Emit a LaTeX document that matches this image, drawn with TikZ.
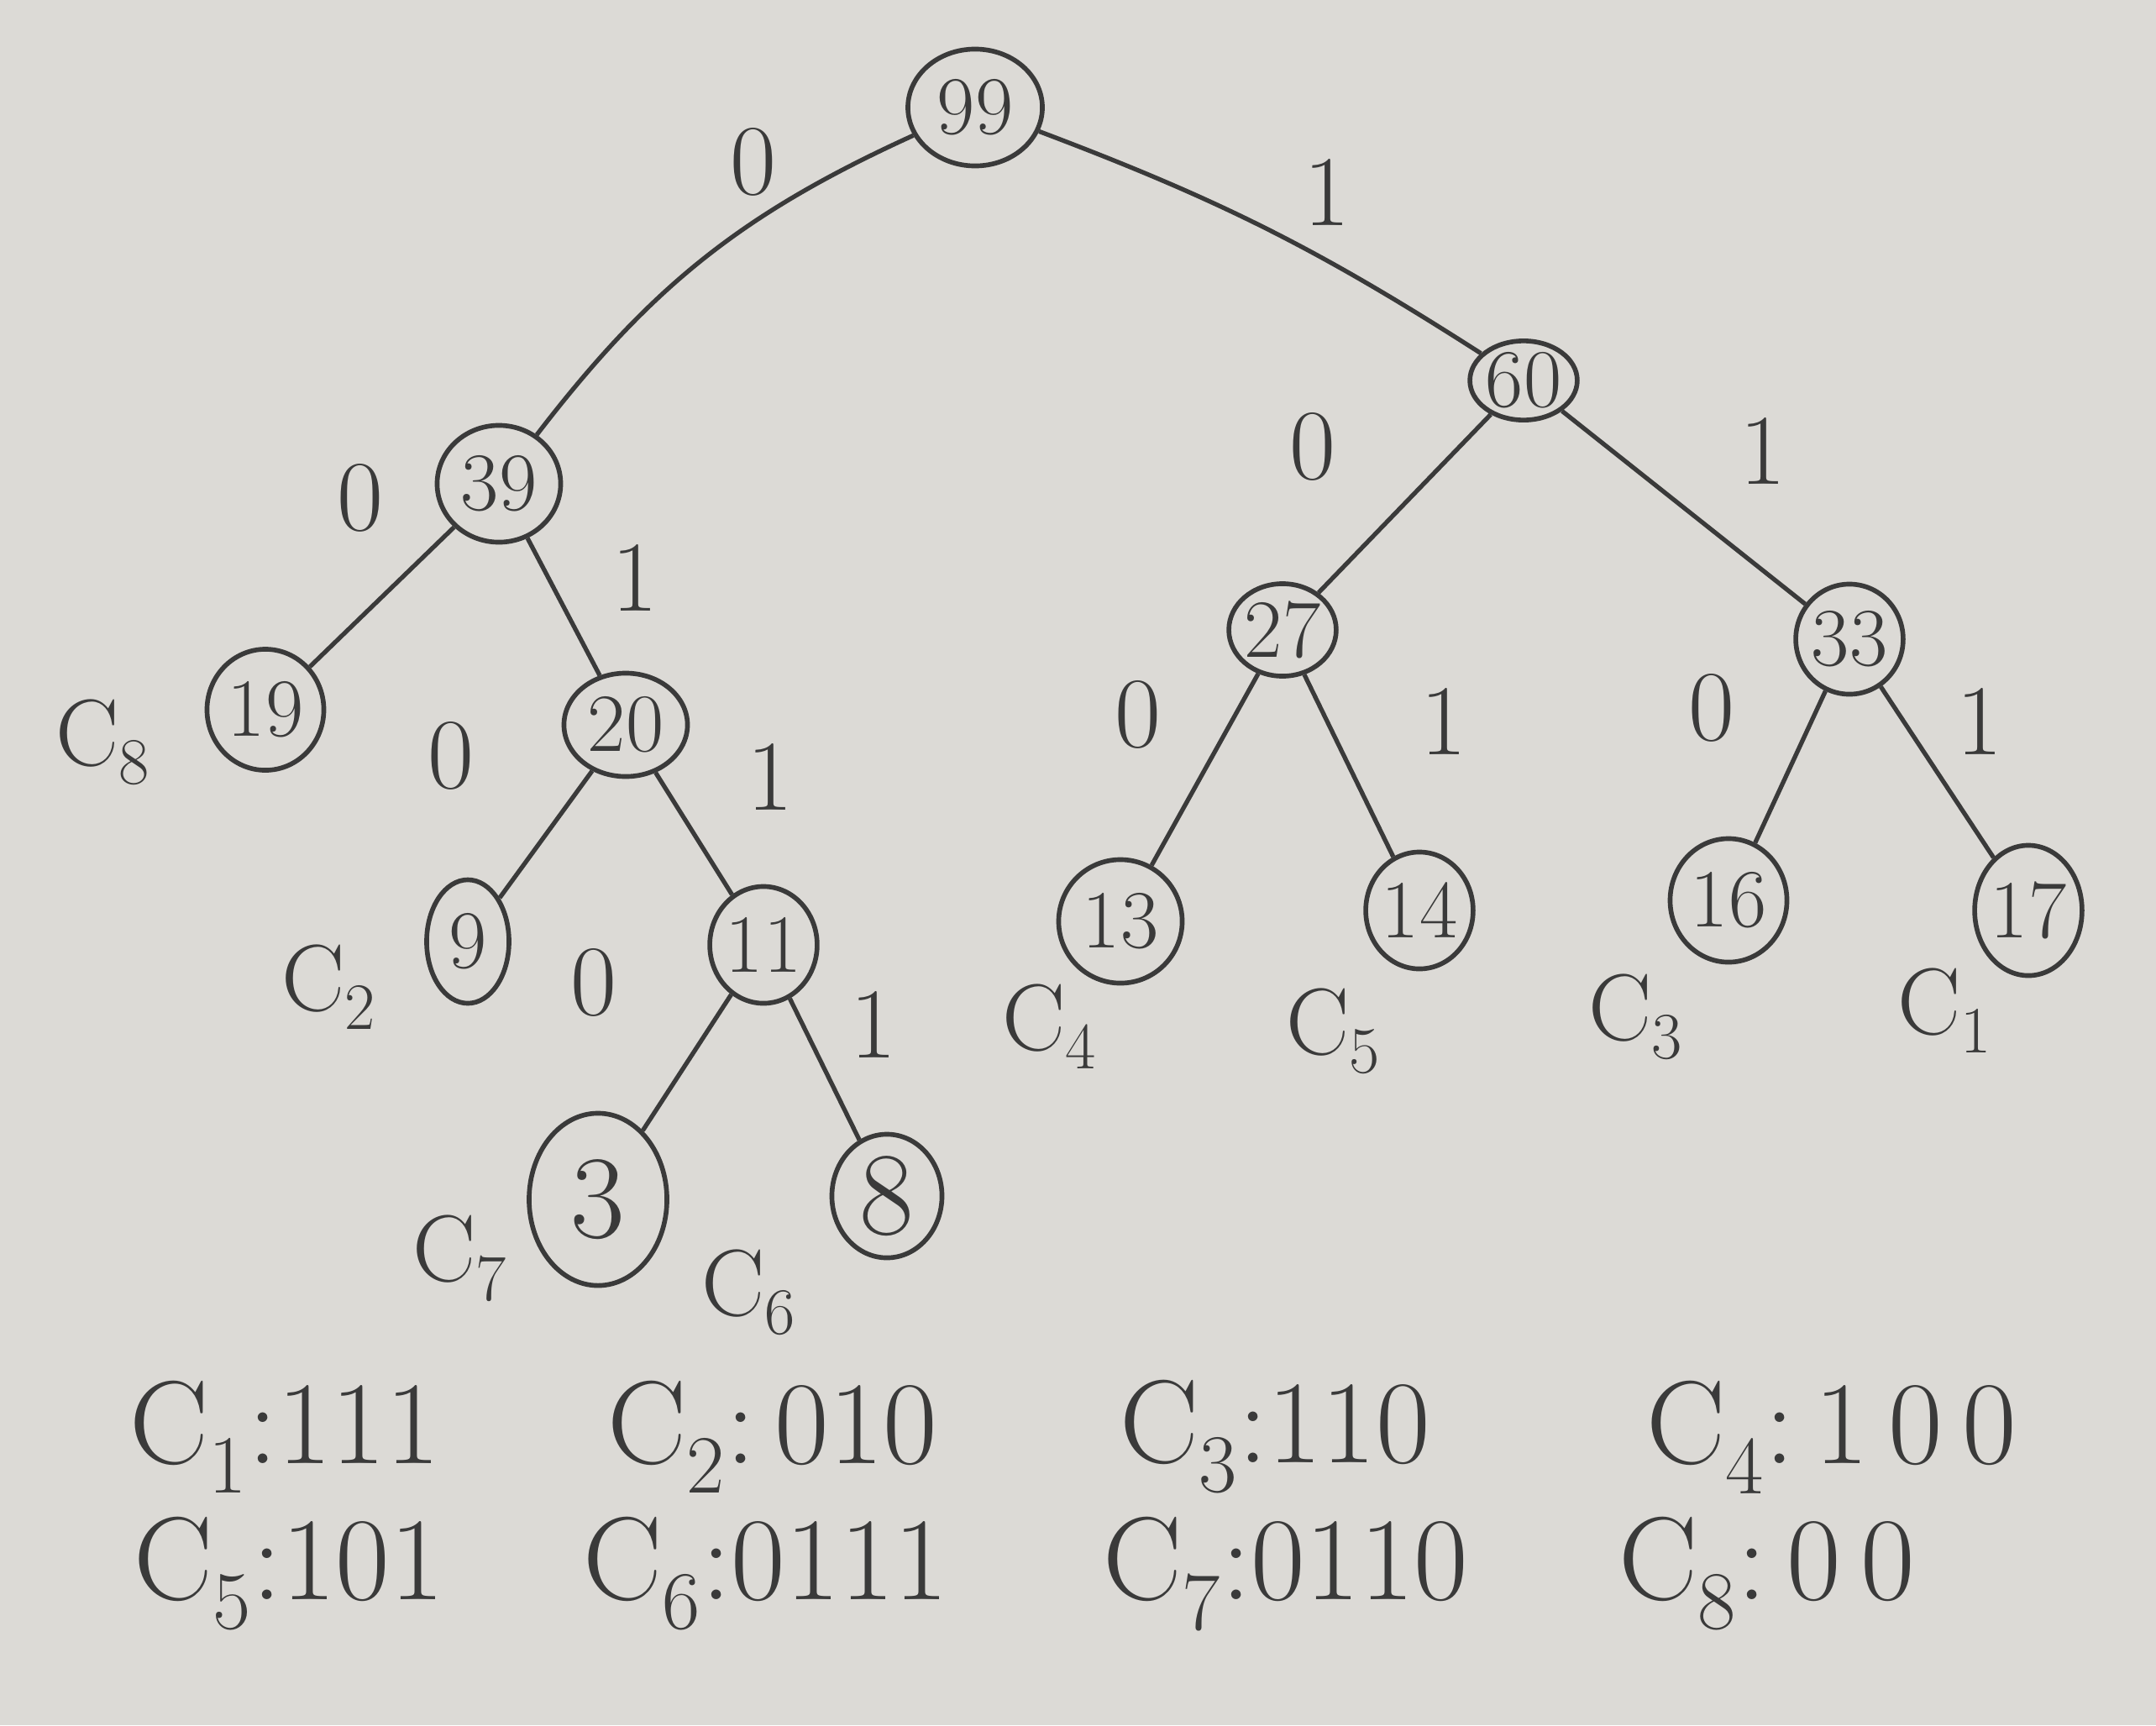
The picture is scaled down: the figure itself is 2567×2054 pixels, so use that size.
\documentclass[tikz,border=0pt]{standalone}
\usetikzlibrary{shapes.geometric}
\definecolor{paper}{HTML}{DCDAD6}
\definecolor{ink}{HTML}{3A3A3A}
\begin{document}
\begin{tikzpicture}[x=0.01cm,y=-0.01cm,
  nd/.style={ellipse,draw=ink,line width=1.6pt,inner sep=0pt,text=ink,font=\fontsize{28}{30}\selectfont},
  big/.style={font=\fontsize{40}{42}\selectfont},
  edge/.style={draw=ink,line width=1.5pt},
  bit/.style={text=ink,font=\fontsize{34}{36}\selectfont},
  leaf/.style={text=ink,inner sep=1pt,font=\fontsize{32}{34}\selectfont},
  code/.style={text=ink,inner sep=1pt,font=\fontsize{40}{42}\selectfont}]
\fill[paper] (0,0) rectangle (2567,2054);
\useasboundingbox (0,0) rectangle (2567,2054);
% nodes
\node[nd,minimum width=1.60cm,minimum height=1.39cm] (n99) at (1161,128) {99};
\node[nd,minimum width=1.06cm,minimum height=0.93cm] (n60) at (1814,453) {60};
\node[nd,minimum width=1.47cm,minimum height=1.39cm] (n39) at (594,576) {39};
\node[nd,minimum width=0.93cm,minimum height=1.10cm] (n27) at (1527,750) {27};
\node[nd,minimum width=1.21cm,minimum height=1.31cm] (n33) at (2202,761) {33};
\node[nd,minimum width=1.39cm,minimum height=1.44cm] (n19) at (316,845) {19};
\node[nd,minimum width=1.47cm,minimum height=1.23cm] (n20) at (745,863) {20};
\node[nd,minimum width=0.98cm,minimum height=1.47cm] (n9) at (557,1121) {9};
\node[nd,minimum width=0.98cm,minimum height=1.39cm] (n11) at (909,1125) {11};
\node[nd,minimum width=1.47cm,minimum height=1.47cm] (n13) at (1334,1097) {13};
\node[nd,minimum width=1.23cm,minimum height=1.39cm] (n14) at (1690,1084) {14};
\node[nd,minimum width=1.39cm,minimum height=1.47cm] (n16) at (2058,1072) {16};
\node[nd,minimum width=1.15cm,minimum height=1.55cm] (n17) at (2415,1084) {17};
\node[nd,big,minimum width=1.64cm,minimum height=2.05cm] (n3) at (712,1428) {3};
\node[nd,big,minimum width=1.31cm,minimum height=1.47cm] (n8) at (1056,1424) {8};
% edges
\draw[edge] (n99) to[bend right=14] (n39);
\draw[edge] (n99) to[bend left=6] (n60);
\draw[edge] (n39) -- (n19);
\draw[edge] (n39) -- (n20);
\draw[edge] (n60) -- (n27);
\draw[edge] (n60) -- (n33);
\draw[edge] (n20) -- (n9);
\draw[edge] (n20) -- (n11);
\draw[edge] (n27) -- (n13);
\draw[edge] (n27) -- (n14);
\draw[edge] (n33) -- (n16);
\draw[edge] (n33) -- (n17);
\draw[edge] (n11) -- (n3);
\draw[edge] (n11) -- (n8);
% edge labels
\node[bit] (b1) at (897,193) {0};
\node[bit] (b2) at (1580,229) {1};
\node[bit] (b3) at (429,593) {0};
\node[bit] (b4) at (756,688) {1};
\node[bit] (b5) at (1563,532) {0};
\node[bit] (b6) at (2099,537) {1};
\node[bit] (b7) at (537,900) {0};
\node[bit] (b8) at (917,925) {1};
\node[bit] (b9) at (1355,851) {0};
\node[bit] (b10) at (1719,859) {1};
\node[bit] (b11) at (2038,843) {0};
\node[bit] (b12) at (2357,859) {1};
\node[bit] (b13) at (707,1170) {0};
\node[bit] (b14) at (1040,1220) {1};
% leaf labels
\node[leaf] (l8) at (123,884) {C\textsubscript{8}};
\node[leaf] (l2) at (392,1175) {C\textsubscript{2}};
\node[leaf] (l4) at (1250,1222) {C\textsubscript{4}};
\node[leaf] (l5) at (1588,1228) {C\textsubscript{5}};
\node[leaf] (l3) at (1948,1211) {C\textsubscript{3}};
\node[leaf] (l1) at (2316,1203) {C\textsubscript{1}};
\node[leaf] (l7) at (548,1498) {C\textsubscript{7}};
\node[leaf] (l6) at (892,1539) {C\textsubscript{6}};
% codes
\node[code] (c1) at (339,1711) {C\textsubscript{1}:111};
\node[code] (c2) at (920,1711) {C\textsubscript{2}:\,010};
\node[code] (c3) at (1518,1711) {C\textsubscript{3}:110};
\node[code] (c4) at (2181,1711) {C\textsubscript{4}:\,1\,0\,0};
\node[code] (c5) at (344,1874) {C\textsubscript{5}:101};
\node[code] (c6) at (912,1874) {C\textsubscript{6}:0111};
\node[code] (c7) at (1531,1874) {C\textsubscript{7}:0110};
\node[code] (c8) at (2104,1874) {C\textsubscript{8}:\,0\,0};
\end{tikzpicture}
\end{document}
